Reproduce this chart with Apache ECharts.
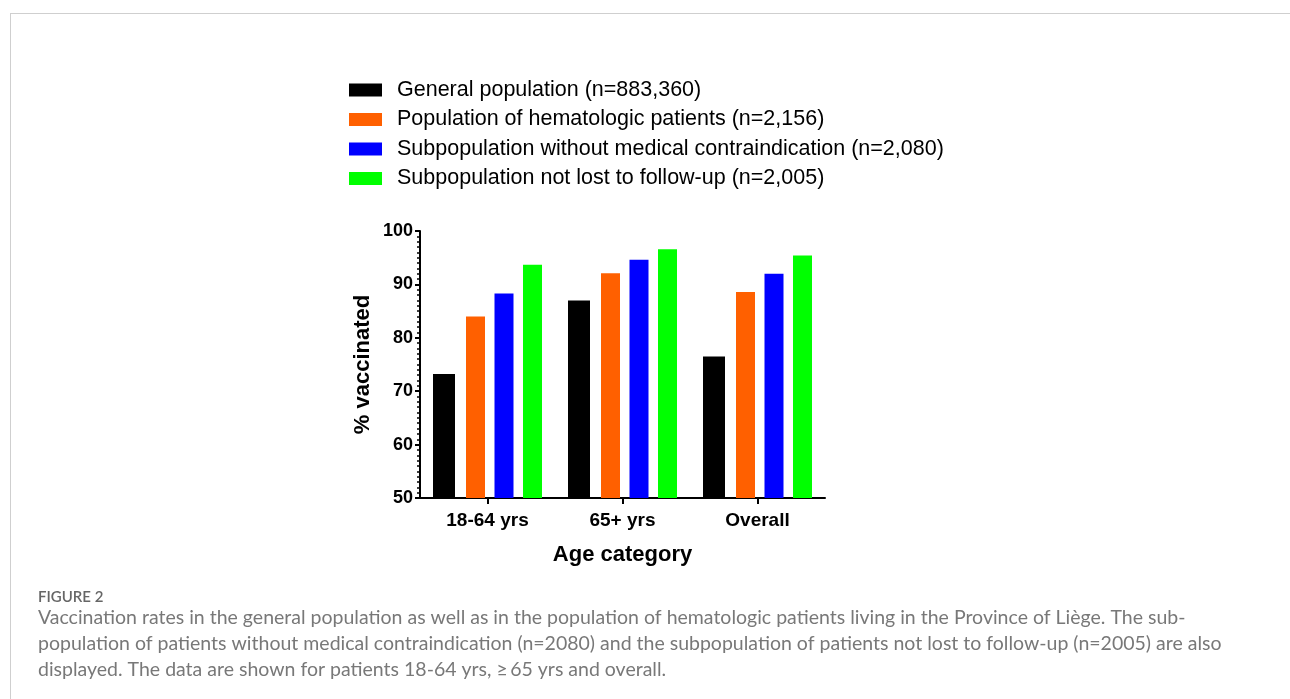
<!DOCTYPE html>
<html>
<head>
<meta charset="utf-8">
<script src="https://cdn.jsdelivr.net/npm/echarts@6/dist/echarts.min.js"></script>
<style>
  html, body { margin: 0; padding: 0; background: #fff; }
  #chart { width: 1290px; height: 699px; }
</style>
</head>
<body>
<div id="chart"></div>
<script>
const categories = ['18-64 yrs', '65+ yrs', 'Overall'];
const seriesNames = [
  'General population (n=883,360)',
  'Population of hematologic patients (n=2,156)',
  'Subpopulation without medical contraindication (n=2,080)',
  'Subpopulation not lost to follow-up (n=2,005)'
];
const generalPopulation = [73.2, 87.0, 76.5];
const hematologicPatients = [84.0, 92.1, 88.6];
const withoutContraindication = [88.3, 94.6, 92.0];
const notLostToFollowUp = [93.7, 96.6, 95.4];
const seriesColors = ['#000000', '#ff6000', '#0000ff', '#00ff00'];
const yTicks = [50, 60, 70, 80, 90, 100];
const captionTitle = 'FIGURE 2';
const captionLines = [
  'Vaccination rates in the general population as well as in the population of hematologic patients living in the Province of Liège. The sub-',
  'population of patients without medical contraindication (n=2080) and the subpopulation of patients not lost to follow-up (n=2005) are also',
  'displayed. The data are shown for patients 18-64 yrs, \u2265\u200965 yrs and overall.'
];

const seriesData = [generalPopulation, hematologicPatients, withoutContraindication, notLostToFollowUp];
const barWidths = [22, 19, 19, 19];
const chart = echarts.init(document.getElementById('chart'), null, { renderer: 'canvas' });

const bold = 'bold';
const font = 'Liberation Sans, Arial, sans-serif';
const capFont = 'Lato, Open Sans, sans-serif';

const option = {
  animation: false,
  backgroundColor: '#ffffff',
  legend: {
    orient: 'vertical',
    left: 349,
    top: 79,
    padding: 0,
    itemWidth: 33,
    itemHeight: 13,
    itemGap: 7.5,
    icon: 'rect',
    selectedMode: false,
    textStyle: { fontFamily: font, fontSize: 21.5, color: '#000', padding: [0, 0, 0, 10] },
    data: seriesNames
  },
  grid: { left: 420, top: 231, width: 405, height: 267, containLabel: false },
  xAxis: {
    type: 'category',
    data: categories,
    name: 'Age category',
    nameLocation: 'middle',
    nameGap: 46,
    nameTextStyle: { fontFamily: font, fontSize: 22, fontWeight: bold, color: '#000' },
    axisLine: { show: true, lineStyle: { color: '#000', width: 2 } },
    axisTick: { show: true, alignWithLabel: true, length: 6, lineStyle: { color: '#000', width: 2 } },
    axisLabel: { fontFamily: font, fontSize: 19, fontWeight: bold, color: '#000', margin: 13 },
    splitLine: { show: false }
  },
  yAxis: {
    type: 'value',
    min: yTicks[0],
    max: yTicks[yTicks.length - 1],
    interval: 10,
    name: '% vaccinated',
    nameLocation: 'middle',
    nameRotate: 90,
    nameGap: 46,
    nameTextStyle: { fontFamily: font, fontSize: 22, fontWeight: bold, color: '#000' },
    axisLine: { show: true, lineStyle: { color: '#000', width: 2 } },
    axisTick: { show: true, length: 5, lineStyle: { color: '#000', width: 2 } },
    minorTick: { show: true, splitNumber: 10, length: 3, lineStyle: { color: '#000', width: 1.5 } },
    axisLabel: { fontFamily: font, fontSize: 18, fontWeight: bold, color: '#000', margin: 7 },
    splitLine: { show: false }
  },
  series: seriesNames.map((name, i) => ({
    name: name,
    type: 'bar',
    data: seriesData[i],
    barWidth: barWidths[i],
    barGap: '50%',
    itemStyle: { color: seriesColors[i] }
  })),
  graphic: [
    { type: 'line', shape: { x1: 10, y1: 13.5, x2: 1290, y2: 13.5 }, style: { stroke: '#cfcfcf', lineWidth: 1 }, silent: true },
    { type: 'line', shape: { x1: 10.5, y1: 13, x2: 10.5, y2: 699 }, style: { stroke: '#cfcfcf', lineWidth: 1 }, silent: true },
    { type: 'text', left: 38, top: 590, style: { text: captionTitle, fontFamily: capFont, fontSize: 15, fontWeight: 600, fill: '#666666' }, silent: true },
    { type: 'text', left: 38, top: 608, style: { text: captionLines[0], fontFamily: capFont, fontSize: 19.5, fill: '#787878' }, silent: true },
    { type: 'text', left: 38, top: 634, style: { text: captionLines[1], fontFamily: capFont, fontSize: 19.5, fill: '#787878' }, silent: true },
    { type: 'text', left: 38, top: 660, style: { text: captionLines[2], fontFamily: capFont, fontSize: 19.5, fill: '#787878' }, silent: true }
  ]
};
chart.setOption(option);
</script>
</body>
</html>
